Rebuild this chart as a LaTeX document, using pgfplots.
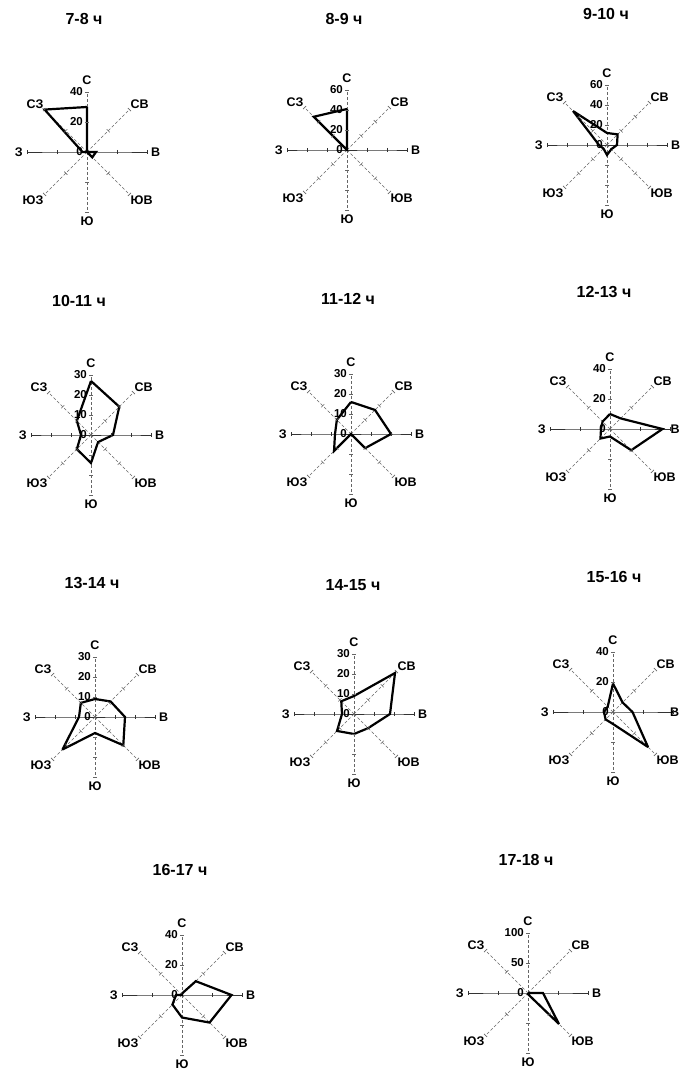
\documentclass[border=0pt]{standalone}
\usepackage{fontspec}
\setmainfont{Liberation Sans}
\usepackage{pgfplots}
\usepgfplotslibrary{polar}
\pgfplotsset{compat=1.18}

\pgfplotsset{
  rose/.style={scale only axis, width=120pt, height=120pt, anchor=center,
    xmin=0, xmax=360, ymin=0, ymax=#1, hide axis, clip=false},
  spokeH/.style={black!80, line width=0.8pt, mark=|, mark phase=2, mark size=2.2pt},
  spokeD/.style={black!60, densely dashed, line width=0.6pt, mark=|, mark phase=2, mark size=2.2pt},
  data/.style={black, line width=2.2pt, line join=miter, miter limit=3, no marks},
}
\tikzset{
  ttl/.style={font=\fontsize{16}{19}\selectfont\bfseries, inner sep=0pt},
  lab/.style={font=\fontsize{12.5}{15}\selectfont\bfseries, inner sep=1pt},
  tl/.style={font=\fontsize{11.5}{13}\selectfont\bfseries, inner sep=1pt, anchor=east, xshift=-3pt},
}

\newcommand{\onespoke}[3]{%
  \xdef\spk{(#1,0)}%
  \foreach \r in {#3} {\xdef\spk{\spk(#1,\r)}}%
  \edef\tmp{\noexpand\addplot[#2, mark options={solid,rotate=#1}] coordinates {\spk};}%
  \tmp}
\newcommand{\spokes}[1]{%
  \onespoke{0}{spokeH}{#1}\onespoke{180}{spokeH}{#1}%
  \onespoke{90}{spokeD}{#1}\onespoke{270}{spokeD}{#1}%
  \onespoke{45}{spokeD}{#1}\onespoke{135}{spokeD}{#1}%
  \onespoke{225}{spokeD}{#1}\onespoke{315}{spokeD}{#1}}
\newcommand{\ticklabels}[1]{%
  \node[tl] at (axis cs:90,0) {0};
  \pgfplotsinvokeforeach{#1}{\node[tl] at (axis cs:90,##1) {##1};}}
% #1 = max, #2 = radius factor for the east label
\newcommand{\dirlabels}[2][1.05]{%
  \node[lab, anchor=south] at (axis cs:90,{1.1*#2}) {С};
  \node[lab, anchor=north] at (axis cs:270,{1.06*#2}) {Ю};
  \node[lab, anchor=west] at (axis cs:0,{#1*#2}) {В};
  \node[lab, anchor=east] at (axis cs:180,{1.05*#2}) {З};
  \node[lab, anchor=south west] at (axis cs:45,{1.0*#2}) {СВ};
  \node[lab, anchor=south east] at (axis cs:135,{1.0*#2}) {СЗ};
  \node[lab, anchor=north west] at (axis cs:315,{1.0*#2}) {ЮВ};
  \node[lab, anchor=north east] at (axis cs:225,{1.0*#2}) {ЮЗ};}

\begin{document}
\begin{tikzpicture}
\useasboundingbox (0,0) rectangle (684pt,1072pt);

% ---------- titles ----------
\node[ttl] at (84pt,1053pt) {7-8 ч};
\node[ttl] at (344pt,1053pt) {8-9 ч};
\node[ttl] at (606pt,1058pt) {9-10 ч};
\node[ttl] at (79pt,771pt) {10-11 ч};
\node[ttl] at (348pt,773pt) {11-12 ч};
\node[ttl] at (604pt,780pt) {12-13 ч};
\node[ttl] at (92pt,489pt) {13-14 ч};
\node[ttl] at (353pt,487pt) {14-15 ч};
\node[ttl] at (614pt,495pt) {15-16 ч};
\node[ttl] at (180pt,202pt) {16-17 ч};
\node[ttl] at (526pt,212pt) {17-18 ч};

% 7-8
\begin{polaraxis}[rose=40, at={(87pt,920pt)}]
\spokes{20,40}\ticklabels{20,40}\dirlabels{40}
\addplot[data] coordinates {(90,30) (45,0) (0,6) (315,5) (270,0) (225,0) (180,3) (135,40) (90,30)};
\end{polaraxis}
% 8-9
\begin{polaraxis}[rose=60, at={(347pt,922pt)}]
\spokes{20,40,60}\ticklabels{20,40,60}\dirlabels{60}
\addplot[data] coordinates {(90,41) (45,0) (0,1) (315,0) (270,0) (225,0) (180,0) (135,47) (90,41)};
\end{polaraxis}
% 9-10
\begin{polaraxis}[rose=60, at={(607pt,927pt)}]
\spokes{20,40,60}\ticklabels{20,40,60}\dirlabels{60}
\addplot[data] coordinates {(90,12) (45,15) (0,10) (315,6) (270,10) (225,5) (180,8) (135,48) (90,12)};
\end{polaraxis}
% 10-11
\begin{polaraxis}[rose=30, at={(91pt,637pt)}]
\spokes{10,20,30}\ticklabels{10,20,30}\dirlabels{30}
\addplot[data] coordinates {(90,27) (45,20) (0,11) (315,5) (270,14) (225,10) (180,5) (135,10) (90,27)};
\end{polaraxis}
% 11-12
\begin{polaraxis}[rose=30, at={(351pt,638pt)}]
\spokes{10,20,30}\ticklabels{10,20,30}\dirlabels{30}
\addplot[data] coordinates {(90,16) (45,17) (0,20) (315,10) (270,0) (225,12) (180,8) (135,10) (90,16)};
\end{polaraxis}
% 12-13
\begin{polaraxis}[rose=40, at={(610pt,643pt)}]
\spokes{20,40}\ticklabels{20,40}\dirlabels[0.99]{40}
\addplot[data] coordinates {(90,10) (45,10) (0,35) (315,20) (270,5) (225,9) (180,6) (135,7) (90,10)};
\end{polaraxis}
% 13-14
\begin{polaraxis}[rose=30, at={(95pt,355pt)}]
\spokes{10,20,30}\ticklabels{10,20,30}\dirlabels{30}
\addplot[data] coordinates {(90,9) (45,11) (0,15) (315,20) (270,8) (225,23) (180,8) (135,10) (90,9)};
\end{polaraxis}
% 14-15
\begin{polaraxis}[rose=30, at={(354pt,358pt)}]
\spokes{10,20,30}\ticklabels{10,20,30}\dirlabels{30}
\addplot[data] coordinates {(90,9) (45,29) (0,18) (315,10) (270,10) (225,12) (180,6) (135,9) (90,9)};
\end{polaraxis}
% 15-16
\begin{polaraxis}[rose=40, at={(613pt,360pt)}]
\spokes{20,40}\ticklabels{20,40}\dirlabels[0.93]{40}
\addplot[data] coordinates {(90,19) (45,9) (0,13) (315,33) (270,8) (225,7) (180,6) (135,5) (90,19)};
\end{polaraxis}
% 16-17
\begin{polaraxis}[rose=40, at={(182pt,77pt)}]
\spokes{20,40}\ticklabels{20,40}\dirlabels{40}
\addplot[data] coordinates {(90,1) (45,13) (0,33) (315,26) (270,15) (225,9) (180,4) (135,0) (90,1)};
\end{polaraxis}
% 17-18
\begin{polaraxis}[rose=100, at={(528pt,79pt)}]
\spokes{50,100}\ticklabels{50,100}\dirlabels{100}
\addplot[data] coordinates {(90,0) (45,0) (0,25) (315,73) (270,2) (225,0) (180,0) (135,0) (90,0)};
\end{polaraxis}
\end{tikzpicture}
\end{document}
